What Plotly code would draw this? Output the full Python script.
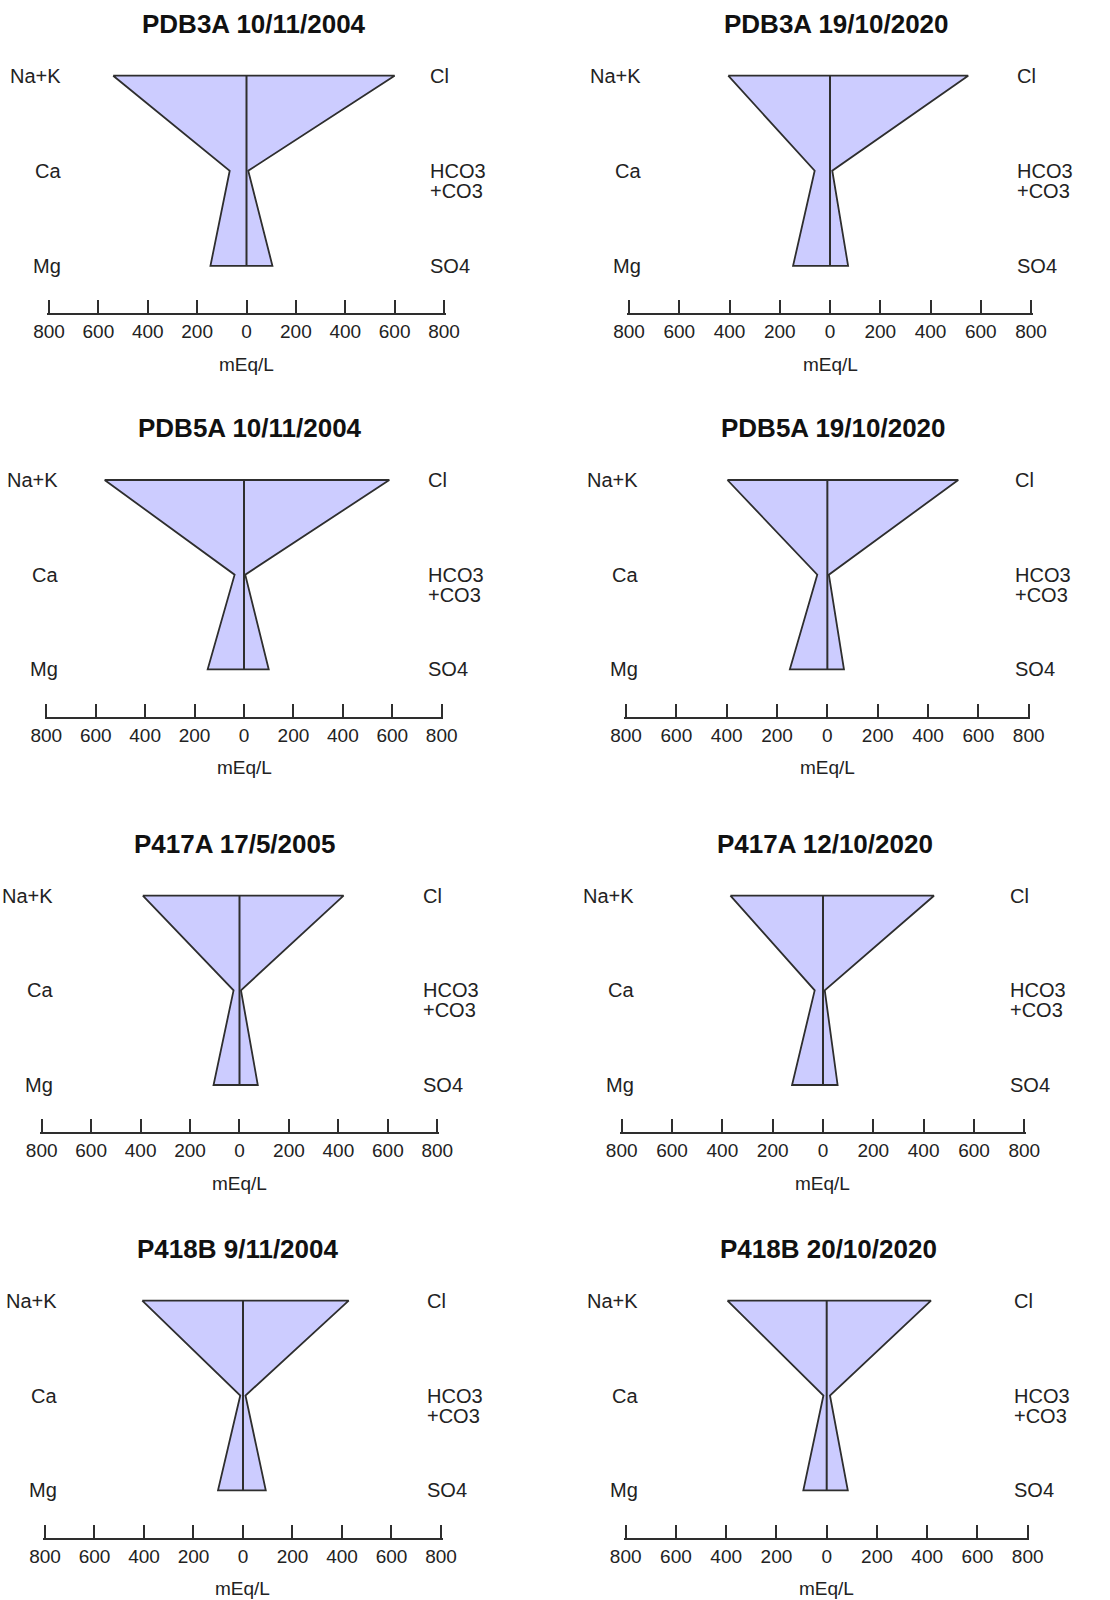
import plotly.graph_objects as go

# Stiff diagrams: major-ion concentrations (mEq/L) per well and sampling date
titles = [
    "PDB3A 10/11/2004", "PDB3A 19/10/2020",
    "PDB5A 10/11/2004", "PDB5A 19/10/2020",
    "P417A 17/5/2005", "P417A 12/10/2020",
    "P418B 9/11/2004", "P418B 20/10/2020",
]
na_k = [540, 405, 564, 397, 391, 368, 407, 395]
ca = [68, 61, 38, 40, 24, 33, 11, 13]
mg = [146, 147, 147, 149, 105, 123, 101, 93]
cl = [600, 550, 588, 520, 421, 441, 427, 415]
hco3_co3 = [7, 9, 5, 6, 6, 7, 10, 13]
so4 = [105, 72, 100, 66, 74, 58, 92, 84]

cation_labels = ["Na+K", "Ca", "Mg"]
anion_labels = ["Cl", "HCO3", "SO4"]
tick_values = [-800, -600, -400, -200, 0, 200, 400, 600, 800]
tick_text = [str(abs(v)) for v in tick_values]

W, H = 1110, 1600
FONT = "Arial, Liberation Sans, sans-serif"
TXT = "#222222"
LINE = "#2e2e2e"
FILL = "#CCCCFF"

# panel frames in pixels: x of -800, x of +800, y of Na+K row, y of axis line
frames = [
    (49, 444, 75.7, 313.3), (629, 1031, 75.7, 313.3),
    (46.3, 441.7, 480, 716.7), (626, 1028.7, 480, 716.7),
    (41.7, 437.3, 895.7, 1132.3), (621.7, 1024.3, 895.7, 1132.3),
    (45, 441, 1300.7, 1537.7), (625.7, 1027.7, 1300.7, 1537.7),
]
title_x = [253.5, 836, 250, 833.5, 234, 825, 237.5, 828]

Y_BOTTOM, Y_TOP = -0.5, 2.2
X_PAD = 7  # small margin so the end ticks at +/-800 are not clipped

fig = go.Figure()
annotations = []
layout_axes = {}

for i in range(8):
    x0, x1, y_nak, y_axis = frames[i]
    px_per_unit = (x1 - x0) / 1600.0
    pad_px = X_PAD * px_per_unit
    unit = (y_axis - y_nak) / (2 - Y_BOTTOM)
    y_top_px = y_axis - (Y_TOP - Y_BOTTOM) * unit
    sfx = "" if i == 0 else str(i + 1)
    xa, ya = "x" + sfx, "y" + sfx

    layout_axes["xaxis" + sfx] = dict(
        domain=[(x0 - pad_px) / W, (x1 + pad_px) / W],
        range=[-800 - X_PAD, 800 + X_PAD], anchor=ya,
        tickvals=tick_values, ticktext=tick_text,
        ticks="inside", ticklen=13, tickwidth=2, tickcolor=LINE,
        showline=True, linecolor=LINE, linewidth=2,
        showgrid=False, zeroline=False, fixedrange=True, automargin=False,
        tickfont=dict(family=FONT, size=19, color=TXT),
    )
    layout_axes["yaxis" + sfx] = dict(
        domain=[1 - y_axis / H, 1 - y_top_px / H], range=[Y_BOTTOM, Y_TOP],
        anchor=xa, visible=False, fixedrange=True, automargin=False,
    )

    # Stiff polygon: cations to the left, anions to the right
    px = [-na_k[i], -ca[i], -mg[i], so4[i], hco3_co3[i], cl[i], -na_k[i]]
    py = [2, 1, 0, 0, 1, 2, 2]
    fig.add_trace(go.Scatter(
        x=px, y=py, xaxis=xa, yaxis=ya, mode="lines", fill="toself",
        fillcolor=FILL, line=dict(color=LINE, width=1.8),
        hoverinfo="skip", showlegend=False, cliponaxis=False,
    ))
    fig.add_trace(go.Scatter(
        x=[0, 0], y=[0, 2], xaxis=xa, yaxis=ya, mode="lines",
        line=dict(color=LINE, width=2), hoverinfo="skip",
        showlegend=False, cliponaxis=False,
    ))

    # ion labels
    for k, lvl in enumerate([2, 1, 0]):
        annotations.append(dict(
            xref=xa, yref=ya, x=-745, y=lvl, text=cation_labels[k],
            xanchor="right", yanchor="middle", showarrow=False,
            font=dict(family=FONT, size=20, color=TXT),
        ))
        annotations.append(dict(
            xref=xa, yref=ya, x=736, y=lvl, text=anion_labels[k],
            xanchor="left", yanchor="middle", showarrow=False,
            font=dict(family=FONT, size=20, color=TXT),
        ))
    annotations.append(dict(
        xref=xa, yref=ya, x=736, y=1, yshift=-20, text="+CO3",
        xanchor="left", yanchor="middle", showarrow=False,
        font=dict(family=FONT, size=20, color=TXT),
    ))

    # title and unit label
    annotations.append(dict(
        xref="paper", yref="paper", x=title_x[i] / W, y=1 - (y_nak - 52) / H,
        text="<b>" + titles[i] + "</b>", xanchor="center", yanchor="middle",
        showarrow=False, font=dict(family=FONT, size=26, color="#111111"),
    ))
    annotations.append(dict(
        xref=xa, yref="paper", x=0, y=1 - (y_axis + 51) / H,
        text="mEq/L", xanchor="center", yanchor="middle", showarrow=False,
        font=dict(family=FONT, size=19, color=TXT),
    ))

fig.update_layout(
    width=W, height=H, margin=dict(l=0, r=0, t=0, b=0),
    paper_bgcolor="white", plot_bgcolor="white",
    annotations=annotations, showlegend=False, **layout_axes,
)

fig.write_html("out.html")
